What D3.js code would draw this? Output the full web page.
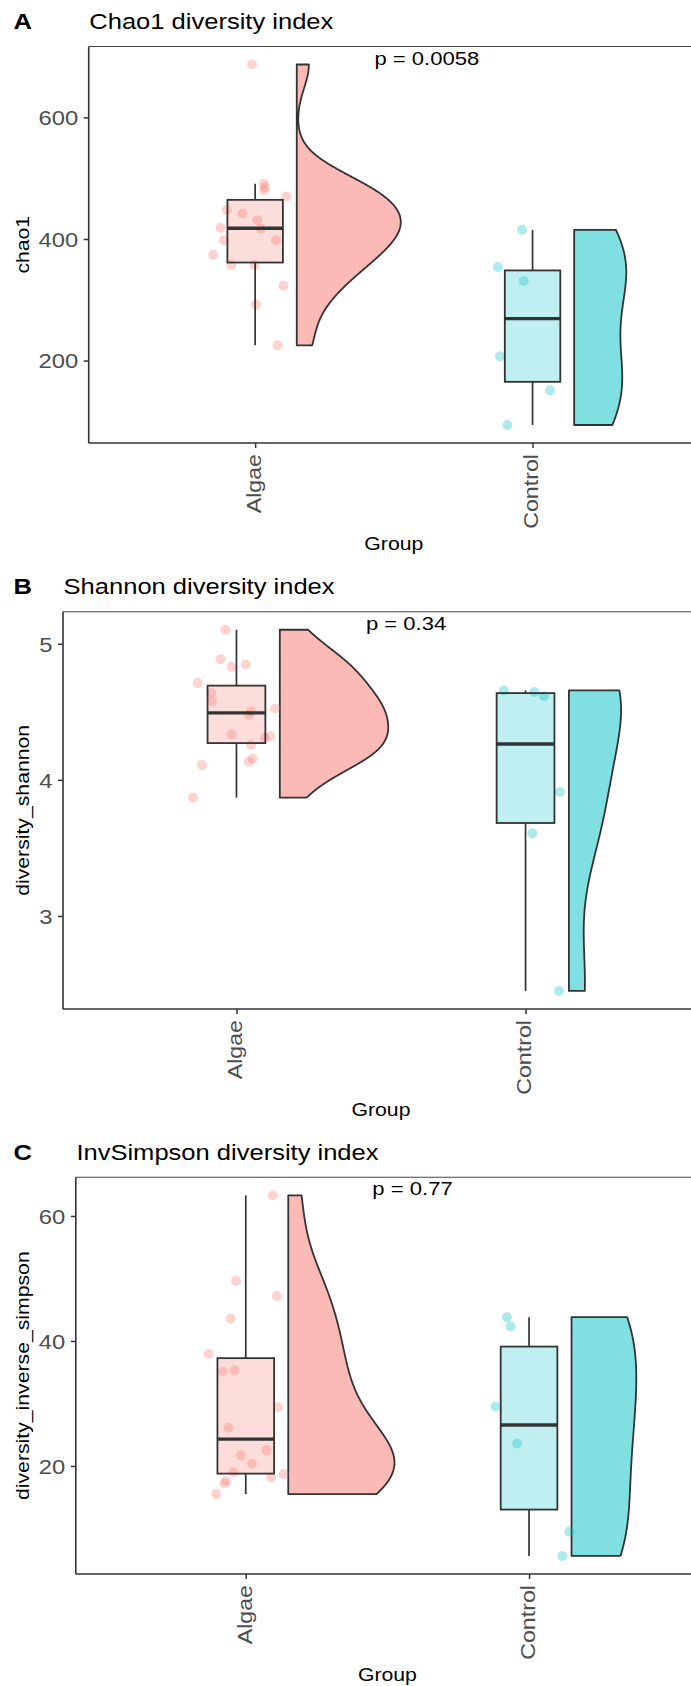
<!DOCTYPE html>
<html>
<head>
<meta charset="utf-8">
<script src="https://cdn.jsdelivr.net/npm/d3@7"></script>
<style>
  body { margin: 0; background: #fff; }
  svg { display: block; }
  text { font-family: "Liberation Sans", Arial, Helvetica, sans-serif; }
</style>
</head>
<body>
<svg id="fig" width="691" height="1686"></svg>
<script>
// ---- data -------------------------------------------------------------
const groups = ["Algae", "Control"];

// Chao1 richness per sample
const chao1Algae   = [687, 491, 485, 480, 470, 447.5, 442, 431, 418.5, 417, 398, 398, 374, 357, 357, 323, 292, 225];
const chao1Control = [415, 354, 331, 207, 151, 94];

// Shannon diversity per sample
const shannonAlgae   = [5.103, 4.887, 4.831, 4.848, 4.711, 4.637, 4.576, 4.525, 4.505, 4.479,
                        4.334, 4.322, 4.307, 4.258, 4.156, 4.134, 4.109, 3.869];
const shannonControl = [4.657, 4.645, 4.615, 3.911, 3.607, 2.449];

// Inverse Simpson diversity per sample
const invSimpsonAlgae   = [63.3, 49.6, 47.2, 43.6, 37.9, 35.1, 35.3, 29.4, 26.1, 22.5,
                           21.7, 20.4, 19.0, 18.7, 18.2, 17.6, 17.2, 15.5];
const invSimpsonControl = [43.8, 42.3, 29.5, 23.6, 9.5, 5.6];

// Horizontal jitter of each sample point (in group-width units)
const chao1AlgaeJitter   = [-0.011, 0.031, 0.035, 0.033, 0.113, -0.102, -0.046, 0.008, -0.125, 0.021,
                            -0.113, 0.075, -0.151, -0.086, -0.003, 0.102, 0.003, 0.081];
const chao1ControlJitter = [-0.038, -0.125, -0.032, -0.117, 0.063, -0.091];
const shannonAlgaeJitter   = [-0.038, -0.055, -0.017, 0.032, -0.134, -0.087, -0.085, 0.134, 0.052, 0.044,
                              -0.017, 0.118, 0.098, 0.050, 0.056, 0.043, -0.119, -0.150];
const shannonControlJitter = [-0.075, 0.031, 0.064, 0.119, 0.024, 0.116];
const invSimpsonAlgaeJitter   = [0.096, -0.034, 0.110, -0.053, -0.131, -0.081, -0.040, 0.114, -0.061, 0.073,
                                 -0.017, 0.022, -0.044, 0.134, 0.090, -0.070, -0.075, -0.104];
const invSimpsonControlJitter = [-0.078, -0.065, -0.118, -0.042, 0.142, 0.118];

// Axis ticks
const chao1Ticks      = [200, 400, 600];
const shannonTicks    = [3, 4, 5];
const invSimpsonTicks = [20, 40, 60];

// Wilcoxon test labels
const pLabels = ["p = 0.0058", "p = 0.34", "p = 0.77"];

// ---- layout & style ---------------------------------------------------
const groupColors = ["#F8766D", "#00BFC4"];
const INK = "#333333";
const TEXT_STRETCH = 1.16;
const PANEL_RIGHT = 699;

const panels = [
  { tag: "A", title: "Chao1 diversity index", ylab: "chao1",
    series: [chao1Algae, chao1Control], jitter: [chao1AlgaeJitter, chao1ControlJitter],
    ticks: chao1Ticks, pLabel: pLabels[0], pX: 1.43,
    left: 88.7, top: 46.5, bottom: 443 },
  { tag: "B", title: "Shannon diversity index", ylab: "diversity_shannon",
    series: [shannonAlgae, shannonControl], jitter: [shannonAlgaeJitter, shannonControlJitter],
    ticks: shannonTicks, pLabel: pLabels[1], pX: 1.448,
    left: 63, top: 611.7, bottom: 1009 },
  { tag: "C", title: "InvSimpson diversity index", ylab: "diversity_inverse_simpson",
    series: [invSimpsonAlgae, invSimpsonControl], jitter: [invSimpsonAlgaeJitter, invSimpsonControlJitter],
    ticks: invSimpsonTicks, pLabel: pLabels[2], pX: 1.447,
    left: 75.8, top: 1177.3, bottom: 1574 }
];

// ---- helpers ----------------------------------------------------------
function bandwidthNrd0(vals) {
  const s = vals.slice().sort(d3.ascending);
  const sd = d3.deviation(s);
  const iqr = d3.quantileSorted(s, 0.75) - d3.quantileSorted(s, 0.25);
  let lo = Math.min(sd, iqr / 1.34);
  if (!(lo > 0)) lo = sd || 1;
  return 0.9 * lo * Math.pow(s.length, -0.2);
}

function densityTrimmed(vals) {
  const bw = bandwidthNrd0(vals);
  const n = vals.length;
  const [mn, mx] = d3.extent(vals);
  const k = 1 / (n * bw * Math.sqrt(2 * Math.PI));
  return d3.range(512).map(i => {
    const y = mn + (mx - mn) * i / 511;
    return [y, k * d3.sum(vals, v => Math.exp(-0.5 * ((y - v) / bw) ** 2))];
  });
}

function boxStats(vals) {
  const s = vals.slice().sort(d3.ascending);
  const q1 = d3.quantileSorted(s, 0.25), med = d3.quantileSorted(s, 0.5), q3 = d3.quantileSorted(s, 0.75);
  const iqr = q3 - q1;
  const lo = d3.min(s.filter(v => v >= q1 - 1.5 * iqr));
  const hi = d3.max(s.filter(v => v <= q3 + 1.5 * iqr));
  return { q1, med, q3, lo, hi };
}

// ---- drawing ----------------------------------------------------------
const svg = d3.select("#fig");
svg.append("rect").attr("width", 691).attr("height", 1686).attr("fill", "#fff");

panels.forEach(p => {
  const g = svg.append("g");
  const all = p.series.flat();
  const [mn, mx] = d3.extent(all);
  const pad = (mx - mn) * 0.05;

  const y = d3.scaleLinear().domain([mn - pad, mx + pad]).range([p.bottom, p.top]);
  const x = d3.scaleLinear().domain([0.4, 2.6]).range([p.left, PANEL_RIGHT]);
  const unit = x(1) - x(0);

  // panel top rule
  g.append("line")
    .attr("x1", p.left).attr("x2", 691)
    .attr("y1", p.top).attr("y2", p.top)
    .attr("stroke", "#444").attr("stroke-width", 1.1);

  // half violins (area-scaled across both groups)
  const dens = p.series.map(densityTrimmed);
  const dMax = d3.max(dens.flat(), d => d[1]);
  dens.forEach((dd, gi) => {
    const flat = x(gi + 1 + 0.15);
    const w = d3.scaleLinear().domain([0, dMax]).range([0, 0.375 * unit]);
    const pts = [[flat, y(dd[0][0])]]
      .concat(dd.map(d => [flat + w(d[1]), y(d[0])]))
      .concat([[flat, y(dd[dd.length - 1][0])]]);
    g.append("path")
      .attr("d", d3.line()(pts) + "Z")
      .attr("fill", groupColors[gi]).attr("fill-opacity", 0.5)
      .attr("stroke", INK).attr("stroke-width", 1.8)
      .attr("stroke-linejoin", "round");
  });

  // jittered sample points
  p.series.forEach((vals, gi) => {
    g.append("g").selectAll("circle")
      .data(vals.map((v, i) => ({ v, j: p.jitter[gi][i] })))
      .join("circle")
      .attr("cx", d => x(gi + 1 + d.j))
      .attr("cy", d => y(d.v))
      .attr("r", 5)
      .attr("fill", groupColors[gi]).attr("fill-opacity", 0.32);
  });

  // boxplots
  p.series.forEach((vals, gi) => {
    const s = boxStats(vals);
    const cx = x(gi + 1), bx0 = x(gi + 1 - 0.1), bx1 = x(gi + 1 + 0.1);
    const bg = g.append("g");
    bg.append("line").attr("x1", cx).attr("x2", cx).attr("y1", y(s.q3)).attr("y2", y(s.hi))
      .attr("stroke", INK).attr("stroke-width", 1.7);
    bg.append("line").attr("x1", cx).attr("x2", cx).attr("y1", y(s.q1)).attr("y2", y(s.lo))
      .attr("stroke", INK).attr("stroke-width", 1.7);
    bg.append("rect")
      .attr("x", bx0).attr("width", bx1 - bx0)
      .attr("y", y(s.q3)).attr("height", y(s.q1) - y(s.q3))
      .attr("fill", groupColors[gi]).attr("fill-opacity", 0.25)
      .attr("stroke", INK).attr("stroke-width", 1.8);
    bg.append("line").attr("x1", bx0).attr("x2", bx1).attr("y1", y(s.med)).attr("y2", y(s.med))
      .attr("stroke", INK).attr("stroke-width", 3.4);
  });

  // p-value label, baseline at the highest observation
  g.append("text")
    .attr("x", x(p.pX)).attr("y", y(mx))
    .attr("font-size", 19).attr("fill", "#000")
    .text(p.pLabel);

  // y axis
  const yAxis = g.append("g").attr("transform", `translate(${p.left},0)`)
    .call(d3.axisLeft(y).tickValues(p.ticks).tickFormat(d3.format("~g")).tickSize(5).tickPadding(5.5));
  yAxis.attr("font-family", null);
  yAxis.select(".domain").attr("stroke", INK).attr("stroke-width", 1.6)
    .attr("d", `M0,${p.top}V${p.bottom}`);
  yAxis.selectAll(".tick line").attr("stroke", INK).attr("stroke-width", 1.5);
  yAxis.selectAll(".tick text").attr("font-size", 20.5).attr("fill", "#4D4D4D")
    .attr("dy", "0.36em");

  // x axis
  const xAxis = g.append("g").attr("transform", `translate(0,${p.bottom})`)
    .call(d3.axisBottom(x).tickValues([1, 2]).tickFormat(i => groups[i - 1]).tickSize(5).tickPadding(6));
  xAxis.attr("font-family", null);
  xAxis.select(".domain").attr("stroke", INK).attr("stroke-width", 1.6)
    .attr("d", `M${p.left},0H691`);
  xAxis.selectAll(".tick line").attr("stroke", INK).attr("stroke-width", 1.5);
  xAxis.selectAll(".tick text")
    .attr("font-size", 20).attr("fill", "#4D4D4D")
    .attr("text-anchor", "end")
    .attr("transform", "rotate(-90)")
    .attr("x", -11).attr("y", 0).attr("dy", "0.27em");

  // axis titles
  g.append("text")
    .attr("x", (p.left + PANEL_RIGHT) / 2).attr("y", p.bottom + 106.5)
    .attr("text-anchor", "middle").attr("font-size", 18.3).attr("fill", "#000")
    .text("Group");
  g.append("text")
    .attr("transform", `translate(28.5,${(p.top + p.bottom) / 2}) rotate(-90)`)
    .attr("text-anchor", "middle").attr("font-size", 18.3).attr("fill", "#000")
    .text(p.ylab);

  // panel tag and title
  g.append("text")
    .attr("x", 13.5).attr("y", p.top - 17.6)
    .attr("font-size", 22).attr("font-weight", "bold").attr("fill", "#000")
    .text(p.tag);
  g.append("text")
    .attr("x", p.left + 0.6).attr("y", p.top - 17.6)
    .attr("font-size", 22).attr("fill", "#000")
    .text(p.title);
});

// widen the glyph run of every label to the figure's text proportions
svg.selectAll("text").each(function () {
  const L = this.getComputedTextLength();
  if (L > 0) {
    this.setAttribute("textLength", (L * TEXT_STRETCH).toFixed(2));
    this.setAttribute("lengthAdjust", "spacingAndGlyphs");
  }
});
</script>
</body>
</html>
